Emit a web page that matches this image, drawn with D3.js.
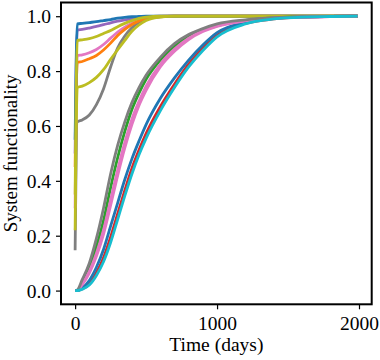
<!DOCTYPE html>
<html>
<head>
<meta charset="utf-8">
<script src="https://cdn.jsdelivr.net/npm/d3@7"></script>
<style>
  body { margin: 0; background: #fff; }
  text { font-family: "Liberation Serif", "DejaVu Serif", serif; }
</style>
</head>
<body>
<svg id="chart" width="380" height="360"></svg>
<script>
// sample days shared by every curve
var days = [0, 15, 50, 100, 150, 200, 250, 300, 350, 400, 450, 500, 600, 700, 800, 900, 1000, 1200, 1400, 1600, 1800, 1990];

// fast recovery runs (jump within the first days, then recover)
var fastGray   = [0.147, 0.615, 0.622, 0.640, 0.678, 0.735, 0.815, 0.885, 0.928, 0.958, 0.978, 0.990, 0.998, 1, 1, 1, 1, 1, 1, 1, 1, 1];
var fastPink   = [0.300, 0.856, 0.859, 0.867, 0.879, 0.897, 0.920, 0.942, 0.960, 0.974, 0.988, 0.995, 0.999, 1, 1, 1, 1, 1, 1, 1, 1, 1];
var fastOrange = [0.450, 0.831, 0.835, 0.845, 0.857, 0.877, 0.902, 0.930, 0.952, 0.970, 0.983, 0.992, 0.999, 1, 1, 1, 1, 1, 1, 1, 1, 1];
var fastPurple = [0.500, 0.950, 0.952, 0.957, 0.963, 0.969, 0.976, 0.982, 0.987, 0.991, 0.995, 0.998, 1, 1, 1, 1, 1, 1, 1, 1, 1, 1];
var fastBlue   = [0.550, 0.972, 0.974, 0.977, 0.980, 0.984, 0.988, 0.993, 0.996, 0.998, 0.999, 1, 1, 1, 1, 1, 1, 1, 1, 1, 1, 1];
var fastOlive2 = [0.220, 0.740, 0.745, 0.758, 0.777, 0.805, 0.843, 0.878, 0.912, 0.945, 0.968, 0.984, 0.997, 1, 1, 1, 1, 1, 1, 1, 1, 1];
var fastOlive1 = [0.350, 0.912, 0.914, 0.918, 0.926, 0.937, 0.948, 0.962, 0.974, 0.984, 0.992, 0.997, 1, 1, 1, 1, 1, 1, 1, 1, 1, 1];

// slow recovery runs (start from zero)
var slowBlue  = [0, 0, 0.010, 0.037, 0.085, 0.150, 0.235, 0.320, 0.405, 0.480, 0.545, 0.605, 0.700, 0.775, 0.840, 0.895, 0.940, 0.978, 0.992, 0.997, 0.999, 1];
var slowRed   = [0, 0, 0.006, 0.024, 0.065, 0.120, 0.195, 0.280, 0.365, 0.445, 0.512, 0.572, 0.670, 0.752, 0.825, 0.883, 0.930, 0.974, 0.990, 0.997, 0.999, 1];
var slowGreen = [0, 0.001, 0.030, 0.085, 0.160, 0.255, 0.375, 0.485, 0.580, 0.660, 0.720, 0.770, 0.840, 0.890, 0.927, 0.951, 0.968, 0.985, 0.994, 0.998, 0.999, 1];
var slowPink2 = [0, 0.001, 0.022, 0.064, 0.125, 0.205, 0.310, 0.420, 0.520, 0.605, 0.675, 0.730, 0.815, 0.872, 0.915, 0.944, 0.963, 0.983, 0.993, 0.997, 0.999, 1];
var slowPink1 = [0, 0.001, 0.025, 0.070, 0.135, 0.220, 0.330, 0.440, 0.540, 0.625, 0.690, 0.745, 0.825, 0.880, 0.920, 0.947, 0.965, 0.984, 0.993, 0.997, 0.999, 1];
var slowGray  = [0, 0.002, 0.040, 0.100, 0.190, 0.300, 0.425, 0.530, 0.615, 0.685, 0.740, 0.785, 0.850, 0.900, 0.933, 0.955, 0.972, 0.987, 0.995, 0.998, 0.999, 1];
var slowCyan  = [0, 0, 0.005, 0.020, 0.055, 0.105, 0.175, 0.260, 0.345, 0.425, 0.495, 0.555, 0.655, 0.740, 0.815, 0.875, 0.925, 0.972, 0.990, 0.997, 0.999, 1];

var xTicks = [0, 1000, 2000];
var yTicks = [0.0, 0.2, 0.4, 0.6, 0.8, 1.0];

var tab = {
  blue: "#1f77b4", orange: "#ff7f0e", green: "#2ca02c", red: "#d62728",
  purple: "#9467bd", pink: "#e377c2", gray: "#7f7f7f", olive: "#bcbd22", cyan: "#17becf"
};

// drawing order matters: later lines sit on top
var runs = [
  {values: fastGray, color: tab.gray},
  {values: fastPink, color: tab.pink},
  {values: fastOrange, color: tab.orange},
  {values: fastPurple, color: tab.purple},
  {values: fastBlue, color: tab.blue},
  {values: fastOlive2, color: tab.olive},
  {values: fastOlive1, color: tab.olive},
  {values: slowRed, color: tab.red},
  {values: slowBlue, color: tab.blue},
  {values: slowGreen, color: tab.green},
  {values: slowPink2, color: tab.pink},
  {values: slowPink1, color: tab.pink},
  {values: slowGray, color: tab.gray},
  {values: slowCyan, color: tab.cyan}
];

function drawChart() {
  var svg = d3.select("#chart");
  var m = {left: 61, right: 371.7, top: 2.5, bottom: 304.3};

  var x = d3.scaleLinear().domain([-99.5, 2089.5]).range([m.left, m.right]);
  var y = d3.scaleLinear().domain([-0.05, 1.05]).range([m.bottom, m.top]);

  svg.append("defs").append("clipPath").attr("id", "plotclip")
    .append("rect")
      .attr("x", m.left).attr("y", m.top)
      .attr("width", m.right - m.left).attr("height", m.bottom - m.top);

  var line = d3.line()
    .x((d, i) => x(days[i]))
    .y(d => y(d))
    .curve(d3.curveMonotoneX);

  svg.append("g")
    .attr("clip-path", "url(#plotclip)")
    .selectAll("path")
    .data(runs)
    .join("path")
      .attr("d", d => line(d.values))
      .attr("fill", "none")
      .attr("stroke", d => d.color)
      .attr("stroke-width", 2.8)
      .attr("stroke-linejoin", "round")
      .attr("stroke-linecap", "butt");

  var xAxis = svg.append("g")
    .attr("transform", "translate(0," + m.bottom + ")")
    .call(d3.axisBottom(x).tickValues(xTicks).tickSize(5).tickPadding(5).tickFormat(d3.format("d")));

  var yAxis = svg.append("g")
    .attr("transform", "translate(" + m.left + ",0)")
    .call(d3.axisLeft(y).tickValues(yTicks).tickSize(5).tickPadding(5).tickFormat(d3.format(".1f")));

  [xAxis, yAxis].forEach(function(g) {
    g.select(".domain").remove();
    g.selectAll(".tick line").attr("stroke", "#000").attr("stroke-width", 1.2);
    g.selectAll(".tick text")
      .attr("fill", "#000")
      .style("font-size", "19.5px")
      .style("font-family", "'Liberation Serif', serif");
  });
  yAxis.selectAll(".tick text").attr("dy", "0.34em");
  xAxis.selectAll(".tick text").attr("dy", "0.78em");

  // frame
  svg.append("rect")
    .attr("x", m.left).attr("y", m.top)
    .attr("width", m.right - m.left).attr("height", m.bottom - m.top)
    .attr("fill", "none")
    .attr("stroke", "#000")
    .attr("stroke-width", 2);

  svg.append("text")
    .attr("x", (m.left + m.right) / 2)
    .attr("y", 351)
    .attr("text-anchor", "middle")
    .style("font-size", "19.5px")
    .text("Time (days)");

  svg.append("text")
    .attr("transform", "translate(16.5," + ((m.top + m.bottom) / 2) + ") rotate(-90)")
    .attr("text-anchor", "middle")
    .style("font-size", "19px")
    .text("System functionality");
}

drawChart();
</script>
</body>
</html>
